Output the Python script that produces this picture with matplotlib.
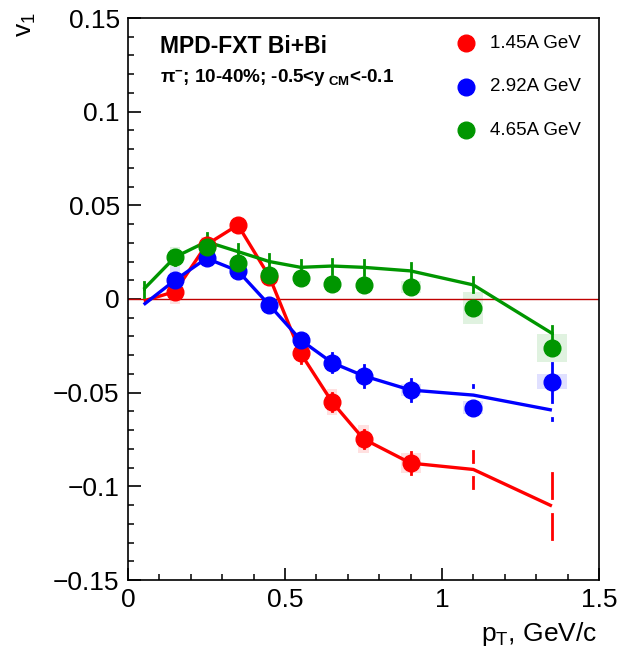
import matplotlib
matplotlib.use('Agg')
import matplotlib.pyplot as plt
from matplotlib.patches import Rectangle
from matplotlib.ticker import MultipleLocator, FixedLocator, FixedFormatter

plt.rcParams['font.family'] = ['Liberation Sans', 'DejaVu Sans']
plt.rcParams['mathtext.fontset'] = 'custom'
plt.rcParams['mathtext.rm'] = 'Liberation Sans'
plt.rcParams['mathtext.it'] = 'Liberation Sans'
plt.rcParams['mathtext.bf'] = 'Liberation Sans:bold'

# ---------------- data ----------------
x_line = [0.05, 0.15, 0.25, 0.35, 0.45, 0.55, 0.65, 0.75, 0.90, 1.10, 1.35]
x_pts = [0.15, 0.25, 0.35, 0.45, 0.55, 0.65, 0.75, 0.90, 1.10, 1.35]
box_halfwidth = [0.017, 0.017, 0.017, 0.017, 0.017, 0.017, 0.017, 0.032, 0.032, 0.048]

labels = ['1.45A GeV', '2.92A GeV', '4.65A GeV']
colors = ['#ff0000', '#0000ff', '#009600']

# 1.45A GeV
red_line = [-0.001, 0.004, 0.029, 0.0395, 0.012, -0.029, -0.055, -0.0747, -0.0876, -0.091, -0.1105]
red_line_err_lo = [0.003, 0.004, 0.004, 0.004, 0.004, 0.005, 0.005, 0.005, 0.006, 0.0101, 0.0175]
red_line_err_hi = [0.003, 0.004, 0.004, 0.004, 0.004, 0.005, 0.005, 0.005, 0.006, 0.0101, 0.0175]
red_pts = [0.0035, 0.029, 0.0395, 0.012, -0.029, -0.055, -0.0747, -0.0876]
red_sys = [0.006, 0.004, 0.003, 0.003, 0.003, 0.007, 0.0075, 0.0055]

# 2.92A GeV
blue_line = [-0.003, 0.0101, 0.0217, 0.015, -0.0032, -0.0219, -0.034, -0.041, -0.0486, -0.0513, -0.0593]
blue_line_err_lo = [0.003, 0.004, 0.004, 0.004, 0.004, 0.004, 0.005, 0.006, 0.006, 0.0055, 0.0053]
blue_line_err_hi = [0.003, 0.004, 0.004, 0.004, 0.004, 0.004, 0.005, 0.006, 0.006, 0.0055, 0.025]
blue_pts = [0.0101, 0.0217, 0.015, -0.0032, -0.0219, -0.034, -0.041, -0.0486, -0.058, -0.0441]
blue_sys = [0.007, 0.003, 0.003, 0.003, 0.003, 0.003, 0.003, 0.003, 0.0035, 0.004]

# 4.65A GeV
green_line = [0.0052, 0.0224, 0.0306, 0.0253, 0.020, 0.0169, 0.0176, 0.0169, 0.0150, 0.0075, -0.0183]
green_line_err_lo = [0.004, 0.004, 0.0045, 0.004, 0.004, 0.004, 0.004, 0.004, 0.004, 0.004, 0.004]
green_line_err_hi = [0.004, 0.004, 0.0045, 0.004, 0.004, 0.004, 0.004, 0.004, 0.004, 0.004, 0.004]
green_pts = [0.0224, 0.0278, 0.019, 0.0128, 0.011, 0.008, 0.0075, 0.0064, -0.0048, -0.0263]
green_sys = [0.0055, 0.003, 0.003, 0.003, 0.003, 0.003, 0.003, 0.003, 0.0083, 0.0075]

x_ticks = [0, 0.5, 1, 1.5]
x_tick_labels = ['0', '0.5', '1', '1.5']
y_ticks = [-0.15, -0.1, -0.05, 0, 0.05, 0.1, 0.15]
y_tick_labels = ['\u22120.15', '\u22120.1', '\u22120.05', '0', '0.05', '0.1', '0.15']

series = [
    (red_line, red_line_err_lo, red_line_err_hi, red_pts, red_sys, 0.0042),
    (blue_line, blue_line_err_lo, blue_line_err_hi, blue_pts, blue_sys, 0.0042),
    (green_line, green_line_err_lo, green_line_err_hi, green_pts, green_sys, 0.0),
]

# ---------------- figure ----------------
fig = plt.figure(figsize=(6.25, 6.52), dpi=100)
ax = fig.add_axes([128 / 625, 1 - 580 / 652, 471 / 625, 562 / 652])
ax.set_xlim(0, 1.5)
ax.set_ylim(-0.15, 0.15)

ax.axhline(0, color='#c00000', lw=1.0, zorder=2)

for (yl, elo, ehi, yp, sys, gap), col in zip(series, colors):
    # systematic boxes
    for xi, yi, hh, hw in zip(x_pts, yp, sys, box_halfwidth):
        ax.add_patch(Rectangle((xi - hw, yi - hh), 2 * hw, 2 * hh,
                               facecolor=col, alpha=0.12, edgecolor='none', zorder=1))
    # line graph
    ax.plot(x_line, yl, color=col, lw=2.4, zorder=3, solid_capstyle='butt')
    # its error bars (drawn with a gap around the point, ROOT-like)
    for xi, yi, lo, hi in zip(x_line, yl, elo, ehi):
        if hi > gap:
            ax.plot([xi, xi], [yi + gap, yi + hi], color=col, lw=2.0, zorder=3)
        if lo > gap:
            ax.plot([xi, xi], [yi - gap, yi - lo], color=col, lw=2.0, zorder=3)
    # data points
    ax.plot(x_pts[:len(yp)], yp, 'o', ms=12, color=col, mec=col, zorder=4)

# axes styling
ax.xaxis.set_major_locator(FixedLocator(x_ticks))
ax.xaxis.set_major_formatter(FixedFormatter(x_tick_labels))
ax.yaxis.set_major_locator(FixedLocator(y_ticks))
ax.yaxis.set_major_formatter(FixedFormatter(y_tick_labels))
ax.xaxis.set_minor_locator(MultipleLocator(0.1))
ax.yaxis.set_minor_locator(MultipleLocator(0.01))
ax.tick_params(which='major', direction='in', length=9, width=1.2, labelsize=19,
               top=False, right=False, pad=6, colors='black')
ax.tick_params(which='minor', direction='in', length=4.5, width=1.1,
               top=False, right=False)
for sp in ax.spines.values():
    sp.set_linewidth(1.2)

# axis titles
fig.text(26 / 625, 1 - 25 / 652, r'v$_{1}$', rotation=90, ha='center', va='center', fontsize=19)
fig.text(597 / 625, 1 - 641 / 652, r'p$_{\rm T}$, GeV/c', ha='right', va='baseline', fontsize=19)

# header texts
ax.text(0.068, 0.9377, 'MPD-FXT Bi+Bi', transform=ax.transAxes, fontsize=16.5,
        fontweight='bold', ha='left', va='baseline')
ax.text(0.068, 0.886, r'π$^{\mathbf{-}}$; 10-40%; -0.5<y$_{\ \mathbf{CM}}$<-0.1',
        transform=ax.transAxes, fontsize=13.6, fontweight='bold', ha='left', va='baseline')

# legend
leg_y = [0.9555, 0.8778, 0.8007]
for lab, col, yy in zip(labels, colors, leg_y):
    ax.plot([0.7176], [yy], 'o', ms=12, color=col, transform=ax.transAxes, clip_on=False, zorder=5)
    ax.text(0.7686, yy, lab, transform=ax.transAxes, fontsize=13.5, ha='left', va='center')

fig.savefig('out.png', dpi=100)
